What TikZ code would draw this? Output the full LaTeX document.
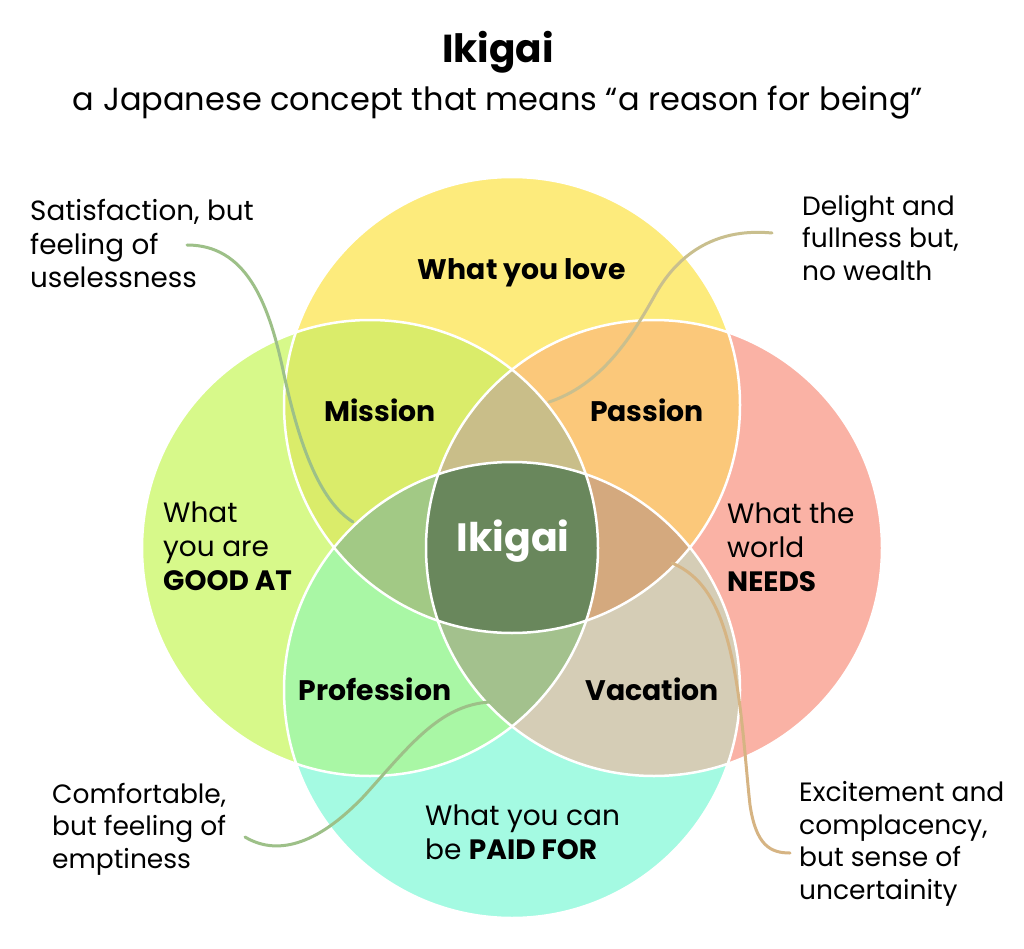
\documentclass[tikz,border=0pt]{standalone}
\usepackage{fontspec}
\setmainfont{Poppins}
\definecolor{cT}{HTML}{FDEB7C}
\definecolor{cL}{HTML}{D7F98A}
\definecolor{cR}{HTML}{FAB2A5}
\definecolor{cB}{HTML}{A4FAE2}
\definecolor{cTL}{HTML}{DAEC6A}
\definecolor{cTR}{HTML}{FBC87A}
\definecolor{cLB}{HTML}{A9F7A5}
\definecolor{cRB}{HTML}{D5CDB6}
\definecolor{cTLR}{HTML}{C9BE89}
\definecolor{cTLB}{HTML}{A2C985}
\definecolor{cTRB}{HTML}{D4A97E}
\definecolor{cLBR}{HTML}{A3C18D}
\definecolor{cAll}{HTML}{69875C}
\definecolor{lnGreen}{HTML}{9DC088}
\definecolor{lnTan}{HTML}{C9BF8E}
\definecolor{lnTan2}{HTML}{D6B483}
\begin{document}
\begin{tikzpicture}[x=1pt,y=-1pt,
  note/.style={align=left,anchor=west,inner sep=0pt,font=\fontsize{26.5}{32.5}\selectfont},
  desc/.style={align=left,anchor=west,inner sep=0pt,font=\fontsize{28}{34}\selectfont},
  region/.style={inner sep=0pt,font=\fontsize{28.3}{34}\selectfont\bfseries},
  conn/.style={line width=3pt,line cap=round},
  rim/.style={draw=white,line width=2.5pt}]
\useasboundingbox[fill=white] (0,0) rectangle (1024,949);
\def\CT{(512,405) circle (228pt)}
\def\CL{(370,548) circle (228pt)}
\def\CR{(654,548) circle (228pt)}
\def\CB{(512,690) circle (228pt)}
% single circles
\fill[cT] \CT; \fill[cL] \CL; \fill[cR] \CR; \fill[cB] \CB;
% pairs
\begin{scope}\clip \CT; \fill[cTL] \CL; \fill[cTR] \CR; \end{scope}
\begin{scope}\clip \CB; \fill[cLB] \CL; \fill[cRB] \CR; \end{scope}
% triples
\begin{scope}\clip \CT; \clip \CL; \fill[cTLR] \CR; \fill[cTLB] \CB; \end{scope}
\begin{scope}\clip \CT; \clip \CR; \fill[cTRB] \CB; \end{scope}
\begin{scope}\clip \CL; \clip \CR; \fill[cLBR] \CB; \end{scope}
% all four
\begin{scope}\clip \CT; \clip \CL; \clip \CR; \fill[cAll] \CB; \end{scope}
% white rims
\draw[rim] \CT; \draw[rim] \CL; \draw[rim] \CR; \draw[rim] \CB;

% titles
\node[inner sep=0pt,font=\fontsize{39}{41}\selectfont\bfseries] (title) at (498,52) {Ikigai};
\node[inner sep=0pt,font=\fontsize{32}{34}\selectfont] (subtitle) at (498,103) {a Japanese concept that means “a reason for being”};

% region labels
\node[region] (love) at (522,273) {What you love};
\node[region] (mission) at (380,410) {Mission};
\node[region] (passion) at (647,410) {Passion};
\node[region] (profession) at (375,689) {Profession};
\node[region] (vacation) at (652,689) {Vacation};
\node[inner sep=0pt,text=white,font=\fontsize{39.5}{41}\selectfont\bfseries] (ikigai) at (513,541) {Ikigai};
\node[desc] (good) at (163,546) {What\\you are\\\textbf{GOOD AT}};
\node[desc] (needs) at (727,547) {What the\\world\\\textbf{NEEDS}};
\node[desc] (paid) at (425,832) {What you can\\be \textbf{PAID FOR}};

% notes
\node[note,font=\fontsize{27.8}{33.5}\selectfont] (sat) at (30,244) {Satisfaction, but\\feeling of\\uselessness};
\node[note] (del) at (802,238) {Delight and\\fullness but,\\no wealth};
\node[note] (com) at (52,829) {Comfortable,\\but feeling of\\emptiness};
\node[note] (exc) at (799,844) {Excitement and\\complacency,\\but sense of\\uncertainity};

% connector ends
\coordinate (satA) at (187,245);
\coordinate (satB) at (353,522);
\coordinate (delA) at (772,233);
\coordinate (delB) at (549,402);
\coordinate (comA) at (245,837);
\coordinate (comB) at (490,702);
\coordinate (excA) at (790,853);
\coordinate (excB) at (672,563);

\draw[conn,lnGreen] (satA) .. controls (245,245) and (268,300) .. (283,370)
  .. controls (298,440) and (318,500) .. (satB);
\draw[conn,lnTan] (delA) .. controls (720,228) and (680,250) .. (655,295)
  .. controls (630,340) and (600,385) .. (delB);
\draw[conn,lnGreen] (comA) .. controls (275,855) and (315,848) .. (365,795)
  .. controls (410,745) and (440,705) .. (comB);
\draw[conn,lnTan2] (excB) .. controls (700,575) and (718,600) .. (730,650)
  .. controls (742,700) and (745,760) .. (750,805)
  .. controls (756,845) and (770,853) .. (excA);
\end{tikzpicture}
\end{document}
